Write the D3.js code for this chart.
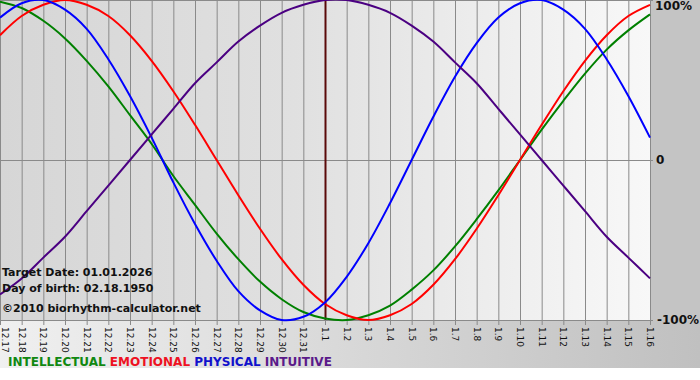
<!DOCTYPE html>
<html lang="en">
	<head>
		<meta charset="utf-8">
		<title>Biorhythm chart</title>
		<script type="text/javascript" src="https://d3js.org/d3.v7.min.js"></script>
		<style type="text/css">
			body { margin: 0; background: #ffffff; }
			svg { display: block; }
		</style>
	</head>
	<body>
		<script type="text/javascript">

// DATA - one value per day, 12.17 .. 1.16
			var days = ["12.17","12.18","12.19","12.20","12.21","12.22","12.23","12.24","12.25","12.26",
				"12.27","12.28","12.29","12.30","12.31","1.1","1.2","1.3","1.4","1.5","1.6","1.7","1.8",
				"1.9","1.10","1.11","1.12","1.13","1.14","1.15","1.16"];
			var targetDay = "1.1";

			var intellectual = [0.99,0.95,0.87,0.76,0.62,0.46,0.28,0.10,-0.10,-0.28,-0.46,-0.62,-0.76,-0.87,-0.95,
				-0.99,-1.00,-0.97,-0.91,-0.81,-0.69,-0.54,-0.37,-0.19,0,0.19,0.37,0.54,0.69,0.81,0.91];
			var emotional = [0.78,0.90,0.97,1.00,0.97,0.90,0.78,0.62,0.43,0.22,0,-0.22,-0.43,-0.62,-0.78,
				-0.90,-0.97,-1.00,-0.97,-0.90,-0.78,-0.62,-0.43,-0.22,0,0.22,0.43,0.62,0.78,0.90,0.97];
			var physical = [0.89,0.98,1.00,0.94,0.82,0.63,0.40,0.14,-0.14,-0.40,-0.63,-0.82,-0.94,-1.00,-0.98,
				-0.89,-0.73,-0.52,-0.27,0,0.27,0.52,0.73,0.89,0.98,1.00,0.94,0.82,0.63,0.40,0.14];
			var intuitive = [-0.84,-0.74,-0.61,-0.48,-0.32,-0.16,0,0.16,0.32,0.48,0.61,0.74,0.84,0.92,0.97,
				1.00,1.00,0.97,0.92,0.84,0.74,0.61,0.48,0.32,0.16,0,-0.16,-0.32,-0.48,-0.61,-0.74];

			var seriesNames = ["INTELLECTUAL","EMOTIONAL","PHYSICAL","INTUITIVE"];
			var yTicks = [1, 0, -1];
			var yTickLabels = ["100%","0","-100%"];
			var infoLines = ["Target Date: 01.01.2026","Day of birth: 02.18.1950","\u00a92010 biorhythm-calculator.net"];

// SIZES
			var w = 700;
			var h = 380;
			var plotW = 650;
			var plotH = 320;
			var colors = ["#008000","#ff0000","#0000ff","#4b0082"];
			var legendColors = ["#118811","#ee1122","#1111cc","#5a1a8a"];
			var font = "'DejaVu Sans', Verdana, sans-serif";

// SVG
			var svg = d3.select("body").append("svg")
				.attr("width", w)
				.attr("height", h);

			var defs = svg.append("defs");
			var g1 = defs.append("linearGradient").attr("id","plotbg");
			g1.append("stop").attr("offset","0%").attr("stop-color","#d6d6d6");
			g1.append("stop").attr("offset","45%").attr("stop-color","#e0e0e0");
			g1.append("stop").attr("offset","100%").attr("stop-color","#f8f8f8");
			var g2 = defs.append("linearGradient").attr("id","outerbg");
			g2.append("stop").attr("offset","0%").attr("stop-color","#f0f0f0");
			g2.append("stop").attr("offset","100%").attr("stop-color","#c0c0c0");

// BACKGROUNDS
			svg.append("rect")
				.attr("x",0).attr("y",0)
				.attr("width",w).attr("height",368)
				.attr("fill","url(#outerbg)");
			svg.append("rect")
				.attr("x",plotW).attr("y",0)
				.attr("width",w-plotW).attr("height",plotH+1)
				.attr("fill","#c4c4c4");
			svg.append("rect")
				.attr("x",0).attr("y",0)
				.attr("width",plotW).attr("height",plotH)
				.attr("fill","url(#plotbg)");

// SCALES
			var x = d3.scalePoint()
				.domain(days)
				.range([0, plotW]);
			var y = d3.scaleLinear()
				.domain([-1, 1])
				.range([plotH, 0]);

// GRID
			svg.selectAll("line.vgrid")
				.data(days)
				.enter()
				.append("line")
				.attr("class","vgrid")
				.attr("x1", function(d){ return x(d) + 0.5; })
				.attr("x2", function(d){ return x(d) + 0.5; })
				.attr("y1", 0)
				.attr("y2", plotH + 5)
				.attr("stroke","#8a8a8a")
				.attr("stroke-width",1);

			svg.selectAll("line.hgrid")
				.data(yTicks)
				.enter()
				.append("line")
				.attr("class","hgrid")
				.attr("x1", 0)
				.attr("x2", plotW + 3)
				.attr("y1", function(d){ return Math.round(y(d)) + 0.5; })
				.attr("y2", function(d){ return Math.round(y(d)) + 0.5; })
				.attr("stroke","#8a8a8a")
				.attr("stroke-width",1);

// TARGET LINE
			svg.append("line")
				.attr("x1", x(targetDay) + 0.5)
				.attr("x2", x(targetDay) + 0.5)
				.attr("y1", 0)
				.attr("y2", plotH)
				.attr("stroke","#5a0a0a")
				.attr("stroke-width",2);

// CURVES
			var allSeries = [intellectual, emotional, physical, intuitive];
			var line = d3.line()
				.x(function(d,i){ return x(days[i]); })
				.y(function(d){ return y(d); })
				.curve(d3.curveCatmullRom.alpha(0.5));

			svg.append("g")
				.selectAll("path")
				.data(allSeries)
				.enter()
				.append("path")
				.attr("d", line)
				.attr("fill","none")
				.attr("stroke", function(d,i){ return colors[i]; })
				.attr("stroke-width",2);

// X LABELS (rotated)
			svg.selectAll("text.xlab")
				.data(days)
				.enter()
				.append("text")
				.attr("class","xlab")
				.text(function(d){ return d; })
				.attr("transform", function(d){ return "translate(" + Math.max(x(d) - 3, 2) + "," + (plotH + 7) + ") rotate(90)"; })
				.attr("font-family", font)
				.attr("font-size","9px")
				.attr("fill","#111");

// Y LABELS
			svg.selectAll("text.ylab")
				.data(yTicks)
				.enter()
				.append("text")
				.attr("class","ylab")
				.text(function(d,i){ return yTickLabels[i]; })
				.attr("x", function(d){ return d === 0 ? 656 : (d > 0 ? 655 : 657); })
				.attr("y", function(d){ return Math.max(y(d) + 4, 10); })
				.attr("font-family", font)
				.attr("font-size","12px")
				.attr("font-weight","bold")
				.attr("fill","#111");

// INFO TEXT
			svg.selectAll("text.info")
				.data(infoLines)
				.enter()
				.append("text")
				.attr("class","info")
				.text(function(d){ return d; })
				.attr("x", 2)
				.attr("y", function(d,i){ return [276, 292, 312][i]; })
				.attr("font-family", font)
				.attr("font-size","11px")
				.attr("font-weight","bold")
				.attr("fill","#111");

// LEGEND
			var legend = svg.append("text")
				.attr("x", 8)
				.attr("y", 366)
				.attr("font-family", font)
				.attr("font-size","12px")
				.attr("font-weight","bold");
			legend.selectAll("tspan")
				.data(seriesNames)
				.enter()
				.append("tspan")
				.text(function(d,i){ return (i > 0 ? " " : "") + d; })
				.attr("fill", function(d,i){ return legendColors[i]; });

		</script>
	</body>
</html>
